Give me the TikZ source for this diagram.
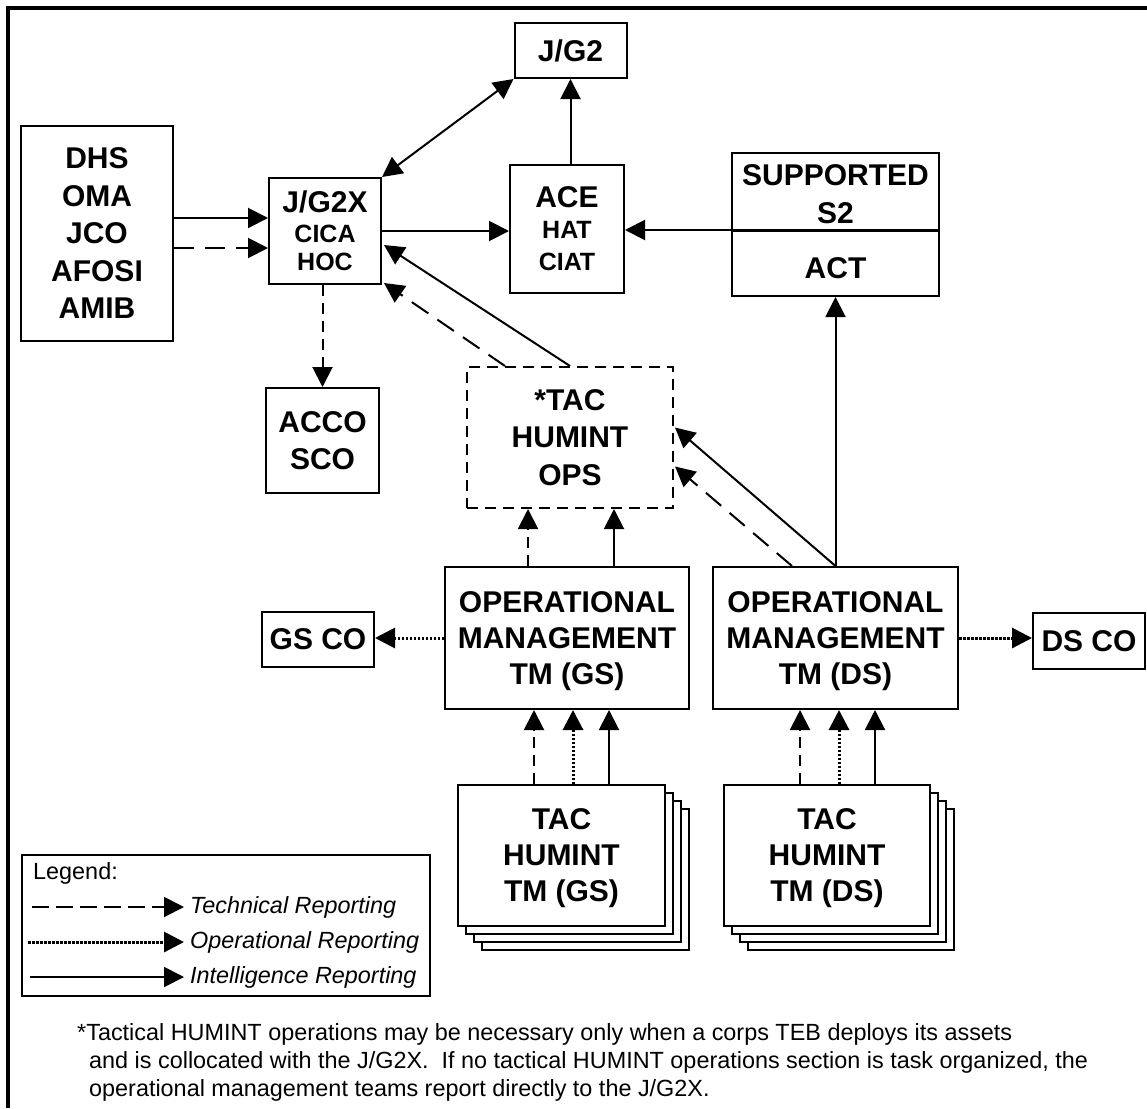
\documentclass[tikz,border=0pt]{standalone}
\usepackage{fontspec}
\setmainfont{Liberation Sans}
\usetikzlibrary{arrows.meta,calc,shadows}
\newcommand\bigf{\fontsize{30}{36}\selectfont}
\newcommand\subf{\fontsize{25}{31}\selectfont}
\newcommand\notef{\fontsize{23.4}{28}\selectfont}
\tikzset{
  box/.style={draw, line width=2pt, fill=white, align=center, inner sep=0pt, text depth=0pt, font=\bfseries\bigf},
  intel/.style={line width=2pt, -{Triangle[length=20pt,width=20pt]}},
  tech/.style={intel, dash pattern=on 20pt off 11pt},
  techs/.style={intel, dash pattern=on 11pt off 7pt},
  oper/.style={intel, line width=3pt, dash pattern=on 2.5pt off 1.5pt},
  stack/.style={copy shadow={shadow xshift=24pt,shadow yshift=-24pt},
    copy shadow={shadow xshift=16pt,shadow yshift=-16pt},
    copy shadow={shadow xshift=8pt,shadow yshift=-8pt}},
  txt/.style={inner sep=0pt, font=\notef}
}
\begin{document}
\begin{tikzpicture}[x=1pt,y=-1pt]
	\useasboundingbox (0,0) rectangle (1147,1108);
	\draw[line width=3.5pt] (1147,8) -- (8,8) -- (8,1108);
	\node[box, minimum width=112pt, minimum height=55pt] (jg2) at (570.5,50.5) {J/G2};
	\node[box, minimum width=152pt, minimum height=215pt] (dhs) at (97,233.5)
		{DHS\\[1.5pt]OMA\\[1.5pt]JCO\\[1.5pt]AFOSI\\[1.5pt]AMIB};
	\node[box, minimum width=112pt, minimum height=106pt] (jg2x) at (325,231)
		{J/G2X\\[-6pt]\subf CICA\\[-8pt]\subf HOC};
	\node[box, minimum width=114pt, minimum height=128pt] (ace) at (567,229)
		{ACE\\[-5pt]\subf HAT\\[-4pt]\subf CIAT};
	\node[box, minimum width=207pt, minimum height=143pt] (supp) at (835.5,224.5) {};
	\node[inner sep=0pt, align=center, font=\bfseries\bigf] (s2) at (835.5,194) {SUPPORTED\\[2pt]S2};
	\node[inner sep=0pt, font=\bfseries\bigf] (act) at (835.5,268) {ACT};
	\coordinate (sdiv) at ($(supp.north west)+(0,78)$);
	\draw[line width=3pt] (sdiv) -- ++(209,0);
	\node[box, minimum width=113pt, minimum height=105pt] (acco) at (322.5,440.5) {ACCO\\[1pt]SCO};
	\node[box, dash pattern=on 11pt off 7pt, minimum width=206pt, minimum height=141pt] (tacops) at (570,437.5)
		{*TAC\\[1.5pt]HUMINT\\[1.5pt]OPS};
	\node[box, minimum width=244pt, minimum height=142pt] (opgs) at (567,638)
		{OPERATIONAL\\MANAGEMENT\\TM (GS)};
	\node[box, minimum width=245pt, minimum height=142pt] (opds) at (835.5,638)
		{OPERATIONAL\\MANAGEMENT\\TM (DS)};
	\node[box, minimum width=112pt, minimum height=55pt] (gsco) at (318,639.5) {GS CO};
	\node[box, minimum width=112pt, minimum height=56pt] (dsco) at (1089,641) {DS CO};
	\node[box, stack, minimum width=207pt, minimum height=141pt] (tmgs) at (561.5,855.5)
		{TAC\\HUMINT\\TM (GS)};
	\node[box, stack, minimum width=206pt, minimum height=141pt] (tmds) at (827,855.5)
		{TAC\\HUMINT\\TM (DS)};

	\draw[intel] ($(dhs.east)+(0,-15.5)$) -- ($(jg2x.west)+(0,-13)$);
	\draw[tech] ($(dhs.east)+(0,14.5)$) -- ($(jg2x.west)+(0,17)$);
	\draw[intel] (jg2x.east) -- (jg2x.east -| ace.west);
	\draw[{Triangle[length=20pt,width=20pt]}-{Triangle[length=20pt,width=20pt]}, line width=2pt]
		(jg2x.north east) -- (jg2.south west);
	\draw[intel] (jg2.south |- ace.north) -- (jg2.south);
	\draw[intel] (sdiv) -- (sdiv -| ace.east);
	\draw[techs] (acco.north |- jg2x.south) -- (acco.north);
	\draw[intel] (tacops.north) -- ($(jg2x.east)+(2,14)$);
	\draw[tech] ($(tacops.north)+(-65,0)$) -- ($(jg2x.south east)+(2,-2)$);
	\path ($(tacops.south)+(-42,0)$) coordinate (g1) ($(tacops.south)+(44,0)$) coordinate (g2);
	\draw[techs] (g1 |- opgs.north) -- (g1);
	\draw[intel] (g2 |- opgs.north) -- (g2);
	\draw[intel] (opds.north) -- ($(tacops.east)+(1,-10)$);
	\draw[tech] ($(opds.north)+(-43.5,0)$) -- ($(tacops.east)+(1,29)$);
	\draw[intel] (opds.north) -- (supp.south);
	\draw[oper] (opgs.west) -- (opgs.west -| gsco.east);
	\draw[oper] (opds.east) -- (opds.east -| dsco.west);
	\foreach \dx/\st in {-33/techs,6/oper,42/intel} {
		\path ($(opgs.south)+(\dx,0)$) coordinate (t);
		\draw[\st] (t |- tmgs.north) -- (t);
	}
	\foreach \dx/\st in {-35.5/techs,3.5/oper,39.5/intel} {
		\path ($(opds.south)+(\dx,0)$) coordinate (t);
		\draw[\st] (t |- tmds.north) -- (t);
	}

	\node[draw, line width=1.5pt, minimum width=408pt, minimum height=141pt] (legend) at (226,925.5) {};
	\node[txt, anchor=west] (lhead) at (33,873) {Legend:};
	\node[txt, anchor=west, font=\notef\itshape] (ltech) at (190,907) {Technical Reporting};
	\node[txt, anchor=west, font=\notef\itshape] (loper) at (190,942) {Operational Reporting};
	\node[txt, anchor=west, font=\notef\itshape] (lintel) at (190,977) {Intelligence Reporting};
	\draw[tech, dash pattern=on 17pt off 7pt] (32,907) -- ([xshift=-6pt]ltech.west);
	\draw[oper] (28,942) -- ([xshift=-6pt]loper.west);
	\draw[intel] (30,977) -- ([xshift=-6pt]lintel.west);

	\node[txt, anchor=north west, align=left] (note) at (77,1023)
		{*Tactical HUMINT operations may be necessary only when a corps TEB deploys its assets\\
		\hspace*{12pt}and is collocated with the J/G2X.\ \ If no tactical HUMINT operations section is task organized, the\\
		\hspace*{12pt}operational management teams report directly to the J/G2X.};
\end{tikzpicture}
\end{document}
